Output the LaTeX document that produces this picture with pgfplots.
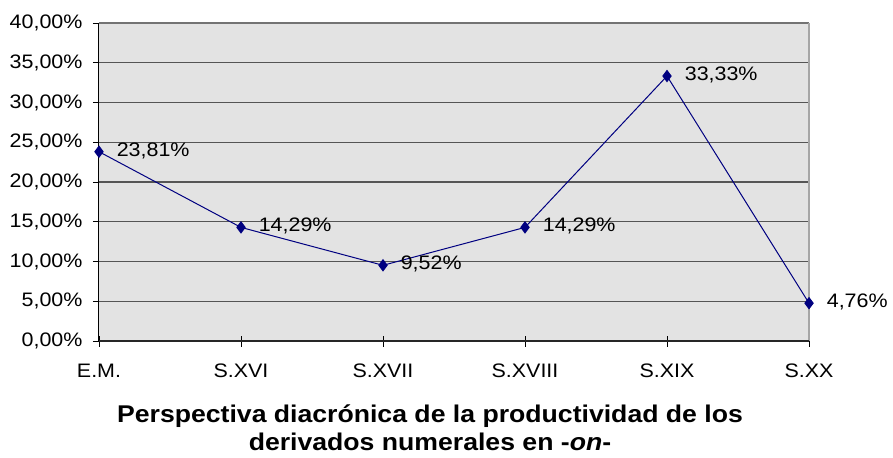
\documentclass[border=0pt]{standalone}
\usepackage{pgfplots}
\pgfplotsset{compat=1.18}
\usepackage{fontspec}
\setmainfont[FakeStretch=1.1]{Liberation Sans}
\definecolor{bggray}{HTML}{E3E3E3}
\definecolor{gridgray}{HTML}{555555}
\definecolor{navyline}{HTML}{000080}
\begin{document}
\begin{tikzpicture}
\useasboundingbox (-99bp,-117bp) rectangle (794bp,23bp+318bp);
\begin{axis}[
  at={(0,0)}, anchor=south west,
  scale only axis,
  width=710bp, height=318bp,
  xmin=0, xmax=5, ymin=0, ymax=40,
  xtick={0,1,2,3,4,5},
  xticklabels={E.M.,S.XVI,S.XVII,S.XVIII,S.XIX,S.XX},
  ytick={0,5,10,15,20,25,30,35,40},
  xtick pos=bottom, ytick pos=left,
  /pgf/number format/assume math mode=true,
  yticklabel={\pgfmathprintnumber[fixed,fixed zerofill,precision=2,use comma]{\tick}\%},
  ymajorgrids,
  grid style={gridgray, line width=1.4bp},
  axis background/.style={fill=bggray},
  axis line style={draw=none},
  tick style={black, line width=0.8bp},
  xtick align=center, ytick align=outside,
  major tick length=11bp,
  ytick style={/pgfplots/major tick length=6bp},
  ticklabel style={font=\fontsize{19.5bp}{23bp}\selectfont},
  xticklabel style={yshift=-14bp},
  yticklabel style={xshift=-2bp},
  clip=false,
  nodes near coords={\pgfmathprintnumber[fixed,fixed zerofill,precision=2,use comma]{\pgfplotspointmeta}\%},
  nodes near coords style={anchor=west, xshift=14bp, yshift=1bp, font=\fontsize{19.5bp}{23bp}\selectfont, black},
  point meta=y,
]
\addplot[draw=navyline, line width=1bp, mark=diamond*, mark size=5.5bp, mark options={fill=navyline, draw=navyline}]
  coordinates {(0,23.81) (1,14.29) (2,9.52) (3,14.29) (4,33.33) (5,4.76)};
\draw[gray!90!black, line width=1.4bp] (rel axis cs:0,1) -- (rel axis cs:1,1);
\draw[gray!70, line width=1.2bp] (rel axis cs:1,0) -- (rel axis cs:1,1);
\draw[black, line width=1bp] (rel axis cs:0,0) -- (rel axis cs:0,1);
\draw[black!85, line width=1.4bp] (rel axis cs:0,0) -- (rel axis cs:1,0);
\end{axis}
\node[anchor=base, font=\fontsize{24.2bp}{29bp}\selectfont\bfseries, inner sep=0pt] at (331bp,-81bp) {Perspectiva diacrónica de la productividad de los};
\node[anchor=base, font=\fontsize{24.2bp}{29bp}\selectfont\bfseries, inner sep=0pt] at (331bp,-109bp) {derivados numerales en -\textit{on}-};
\end{tikzpicture}
\end{document}
